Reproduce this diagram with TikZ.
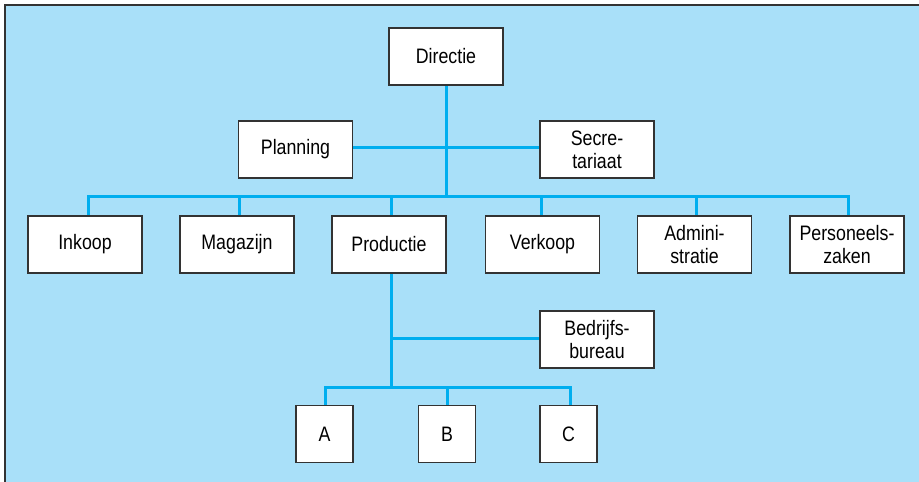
\documentclass[tikz,border=0pt]{standalone}
\usepackage{fontspec}
\setmainfont[FakeStretch=0.85]{Liberation Sans}
\usetikzlibrary{backgrounds}
\definecolor{panel}{HTML}{A9E0F9}
\definecolor{link}{HTML}{00AEEF}
\definecolor{frame}{HTML}{333333}
\begin{document}
\begin{tikzpicture}[x=1bp,y=-1bp,
  unit/.style={draw=frame,line width=1.4bp,fill=white,minimum width=114bp,minimum height=57bp,
    inner sep=0pt,align=center,font=\fontsize{21}{23}\selectfont},
  sq/.style={unit,minimum width=57bp},
  conn/.style={draw=link,line width=3bp}]
\useasboundingbox (0,0) rectangle (919,482);

% top level and staff units
\node[unit] (dir) at (446,56.5) {Directie};
\node[unit] (plan) at (295.5,149.5) {Planning};
\node[unit] (secr) at (597,149.5) {Secre-\\tariaat};

% departments
\node[unit] (ink) at (85,244.5) {Inkoop};
\node[unit] (mag) at (237,244.5) {Magazijn};
\node[unit] (prod) at (389,244.5) {Productie};
\node[unit] (verk) at (542.5,244.5) {Verkoop};
\node[unit] (adm) at (694.5,244.5) {Admini-\\stratie};
\node[unit] (pers) at (847,244.5) {Personeels-\\zaken};

% production staff and sections
\node[unit] (bedr) at (597,339.5) {Bedrijfs-\\bureau};
\node[sq] (a) at (324.5,434) {A};
\node[sq] (b) at (447,434) {B};
\node[sq] (c) at (568.5,434) {C};

% branch points
\coordinate (busT) at (446,197);
\coordinate (staffT) at (446,148);
\coordinate (prodX) at (391,273);
\coordinate (staffP) at (391,338);
\coordinate (busP) at (391,387);

\begin{scope}[on background layer]
  \fill[panel] (5,5) rectangle (925,490);
  \draw[frame,line width=1.5bp] (5,490) -- (5,5) -- (925,5);
  % connectors
  \draw[conn] (dir.south) -- (busT);
  \draw[conn] (plan.east |- staffT) -- (secr.west |- staffT);
  \draw[conn] (ink.north -| 88,0) |- (busT) -| (pers.north -| 848,0);
  \foreach \n/\x in {mag/239,prod/391,verk/541,adm/696}
    \draw[conn] (\n.north -| \x,0) -- (\x,197);
  \draw[conn] (prodX) -- (busP);
  \draw[conn] (staffP) -- (bedr.west |- staffP);
  \draw[conn] (a.north -| 325,0) |- (busP) -| (c.north -| 570,0);
  \draw[conn] (b.north -| 447,0) -- (447,387);
\end{scope}
\end{tikzpicture}
\end{document}
